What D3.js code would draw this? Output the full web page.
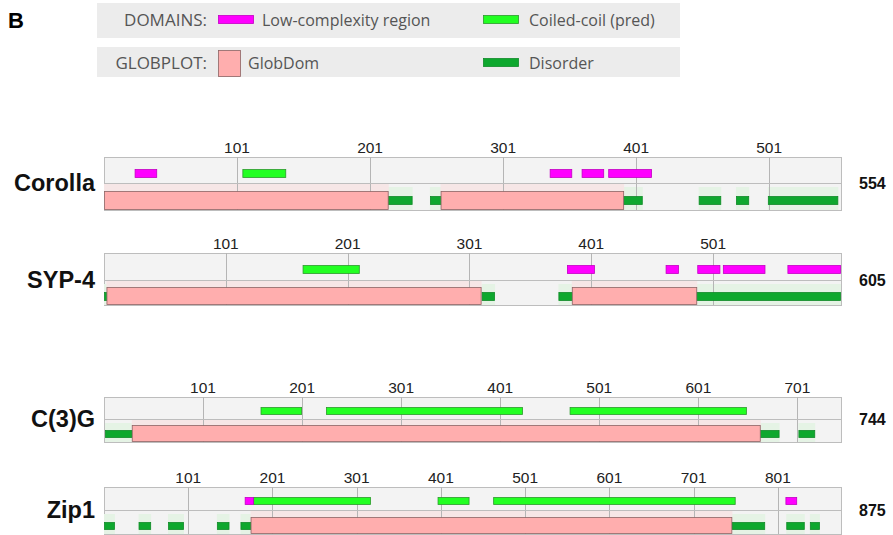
<!DOCTYPE html>
<html>
<head>
<meta charset="utf-8">
<script src="https://cdn.jsdelivr.net/npm/d3@7.9.0/dist/d3.min.js"></script>
<style>
  body { margin: 0; background: #fff; }
  svg { display: block; }
</style>
</head>
<body>
<svg id="chart" width="893" height="535"></svg>
<script>
// protein names and lengths (aa)
const proteins = ["Corolla", "SYP-4", "C(3)G", "Zip1"];
const lengths = [554, 605, 744, 875];

// domain ranges [start, end] in residues, one list per protein
const lowComplexity = [
  [[24, 40], [336, 352], [360, 376], [380, 412]],
  [[381, 403], [462, 472], [488, 506], [509, 543], [562, 605]],
  [],
  [[168, 178], [810, 823]]
];
const coiledCoil = [
  [[105, 137]],
  [[164, 210]],
  [[159, 200], [225, 423], [471, 649]],
  [[178, 317], [397, 434], [463, 750]]
];
const globDom = [
  [[1, 214], [254, 391]],
  [[3, 310], [385, 487]],
  [[29, 663]],
  [[175, 746]]
];
const disorder = [
  [[214, 232], [246, 254], [391, 405], [448, 464], [476, 485], [500, 552]],
  [[1, 4], [311, 321], [374, 385], [487, 605]],
  [[2, 29], [663, 682], [702, 718]],
  [[1, 13], [42, 56], [77, 95], [135, 149], [163, 175], [746, 785], [811, 832], [839, 850]]
];
const tickLabels = [
  [101, 201, 301, 401, 501],
  [101, 201, 301, 401, 501],
  [101, 201, 301, 401, 501, 601, 701],
  [101, 201, 301, 401, 501, 601, 701, 801]
];

// legend entries
const legendRows = [
  { title: "DOMAINS:", items: [["Low-complexity region", "lc"], ["Coiled-coil (pred)", "cc"]] },
  { title: "GLOBPLOT:", items: [["GlobDom", "gd"], ["Disorder", "dis"]] }
];

// track layout (pixels)
const trackTop = [157, 253, 397, 487];
const rowTop = [26, 27, 22, 23];
const rowBot = [27, 25, 23, 24];
const x0 = 104, x1 = 841;

const col = {
  lc: { fill: "#ff00ff", stroke: "#c200c2" },
  cc: { fill: "#22ff22", stroke: "#2c9a2c" },
  gd: { fill: "#ffaeae", stroke: "#8c6464" },
  dis: { fill: "#0ea82e", stroke: "#118a28" }
};

const svg = d3.select("#chart");

svg.append("text").attr("x", 8).attr("y", 28)
  .attr("font-family", "Liberation Sans, Arial, sans-serif")
  .attr("font-weight", "bold").attr("font-size", 22).text("B");

// legend
legendRows.forEach((r, i) => {
  const y = i === 0 ? 3 : 47;
  const h = i === 0 ? 35 : 30;
  const g = svg.append("g").attr("transform", `translate(0,${y})`);
  g.append("rect").attr("x", 97).attr("y", 0).attr("width", 583).attr("height", h).attr("fill", "#ececec");
  const cy = i === 0 ? 17 : 16;
  const txt = (x, s) => g.append("text").attr("x", x).attr("y", cy + 5.5)
    .attr("font-family", "Open Sans, sans-serif").attr("font-size", 16)
    .attr("fill", "#555").text(s);
  txt(207, r.title).attr("text-anchor", "end").attr("font-size", 17);
  r.items.forEach(([label, key], j) => {
    const sx = j === 0 ? 218 : 483;
    if (key === "gd") {
      g.append("rect").attr("x", sx + 0.5).attr("y", 3.5).attr("width", 22).attr("height", h - 4)
        .attr("fill", col.gd.fill).attr("stroke", col.gd.stroke).attr("stroke-width", 0.8);
      txt(sx + 30, label);
    } else {
      g.append("rect").attr("x", sx + 0.5).attr("y", cy - 4.5).attr("width", 35).attr("height", 8)
        .attr("fill", col[key].fill).attr("stroke", col[key].stroke).attr("stroke-width", 0.8);
      txt(j === 0 ? 262 : 529, label);
    }
  });
});

// tracks
proteins.forEach((name, i) => {
  const len = lengths[i];
  const top = trackTop[i], mid = top + rowTop[i], bot = mid + rowBot[i];
  const x = d3.scaleLinear().domain([1, len + 1]).range([x0, x1]);
  const g = svg.append("g");

  g.append("rect").attr("x", x0 + 0.5).attr("y", top + 0.5)
    .attr("width", x1 - x0).attr("height", bot - top)
    .attr("fill", "#f3f3f3").attr("stroke", "#bdbdbd");

  // faint shading behind globplot segments
  g.selectAll(null).data(disorder[i]).join("rect")
    .attr("x", d => x(d[0])).attr("width", d => x(d[1] + 1) - x(d[0]))
    .attr("y", mid + 4).attr("height", bot - mid - 4)
    .attr("fill", "#e5f3e5");
  g.selectAll(null).data(globDom[i]).join("rect")
    .attr("x", d => x(d[0])).attr("width", d => x(d[1] + 1) - x(d[0]))
    .attr("y", mid + 1).attr("height", bot - mid - 1)
    .attr("fill", "#f6e6e6");

  // grid + tick labels
  g.selectAll(null).data(tickLabels[i]).join("line")
    .attr("x1", d => Math.round(x(d)) + 0.5).attr("x2", d => Math.round(x(d)) + 0.5)
    .attr("y1", top).attr("y2", bot)
    .attr("stroke", "#b5b5b5");
  g.append("line").attr("x1", x0).attr("x2", x1).attr("y1", mid + 0.5).attr("y2", mid + 0.5)
    .attr("stroke", "#bdbdbd");
  g.selectAll(null).data(tickLabels[i]).join("text")
    .attr("x", d => x(d)).attr("y", top - 4)
    .attr("text-anchor", "middle")
    .attr("font-family", "Liberation Sans, Arial, sans-serif")
    .attr("font-size", 15.5).attr("fill", "#222")
    .text(d => d);

  const bar = (data, key, y, h) => g.selectAll(null).data(data).join("rect")
    .attr("x", d => x(d[0]) + 0.5).attr("width", d => x(d[1] + 1) - x(d[0]) - 1)
    .attr("y", y + 0.5).attr("height", h)
    .attr("fill", col[key].fill).attr("stroke", col[key].stroke).attr("stroke-width", 0.8);

  const bh = Math.round(rowTop[i] * 0.31);
  const by = top + Math.round(rowTop[i] * 0.45);
  bar(coiledCoil[i], "cc", by, bh);
  bar(lowComplexity[i], "lc", by, bh);

  const h2 = rowBot[i];
  bar(disorder[i], "dis", mid + Math.round(h2 * 0.48), Math.round(h2 * 0.31));
  bar(globDom[i], "gd", mid + Math.round(h2 * 0.28), bot - mid - Math.round(h2 * 0.28) - 1);

  svg.append("text").attr("x", 95).attr("y", mid + 8)
    .attr("text-anchor", "end")
    .attr("font-family", "Liberation Sans, Arial, sans-serif")
    .attr("font-weight", "bold").attr("font-size", 23.5).attr("fill", "#111")
    .text(name);
  svg.append("text").attr("x", 859).attr("y", mid + 5.5)
    .attr("font-family", "Liberation Sans, Arial, sans-serif")
    .attr("font-weight", "bold").attr("font-size", 16).attr("fill", "#111")
    .text(len);
});
</script>
</body>
</html>
